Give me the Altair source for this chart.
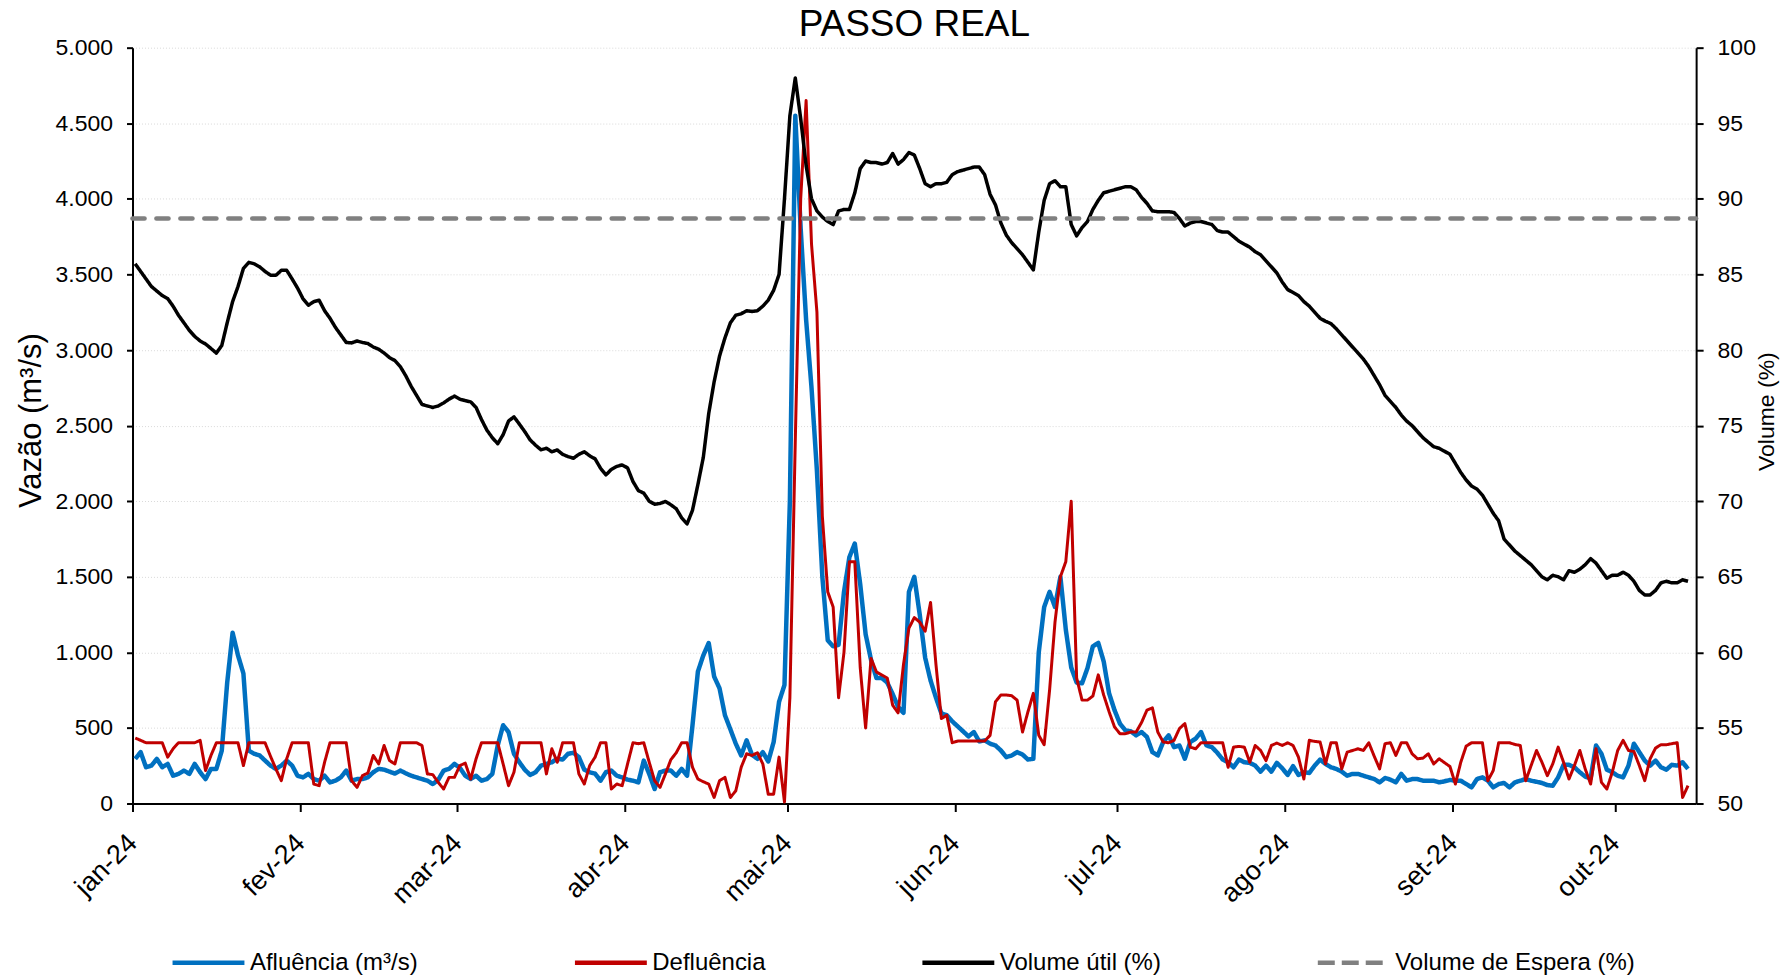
import altair as alt
import pandas as pd

# ---------------- data ----------------
INICIO = "2024-01-01 12:00"
AFLU = [
    295, 340, 240, 251, 295, 240, 262, 184, 196, 218,
    196, 262, 207, 162, 229, 229, 350, 800, 1130, 980,
    860, 350, 329, 318, 284, 251, 229, 251, 284, 251,
    184, 173, 196, 162, 151, 184, 140, 151, 173, 218,
    151, 162, 162, 173, 207, 229, 224, 211, 198, 218,
    200, 184, 173, 162, 151, 129, 156, 218, 229, 262,
    236, 184, 162, 184, 151, 162, 196, 384, 518, 473,
    329, 273, 224, 189, 207, 251, 262, 273, 296, 291,
    329, 336, 307, 224, 207, 198, 151, 207, 218, 184,
    173, 158, 151, 140, 284, 196, 96, 207, 218, 218,
    184, 229, 184, 518, 873, 980, 1062, 840, 762, 584,
    491, 396, 318, 418, 322, 296, 340, 278, 407, 673,
    784, 2000, 4550, 3800, 3200, 2750, 2200, 1500, 1080, 1040,
    1050, 1400, 1630, 1720, 1450, 1120, 950, 830, 830, 800,
    724, 640, 600, 1400, 1500, 1250, 965, 814, 700, 596,
    584, 544, 511, 478, 444, 473, 411, 418, 396, 384,
    351, 307, 318, 340, 324, 291, 296, 1000, 1300, 1400,
    1300, 1500, 1150, 900, 800, 795, 895, 1040, 1062, 940,
    729, 618, 529, 484, 478, 451, 473, 440, 340, 318,
    407, 451, 373, 384, 296, 407, 429, 473, 384, 373,
    336, 291, 273, 240, 291, 273, 269, 251, 211, 251,
    211, 269, 233, 189, 247, 189, 207, 202, 251, 291,
    262, 240, 229, 211, 184, 196, 196, 184, 173, 162,
    140, 169, 158, 140, 196, 151, 162, 162, 151, 151,
    151, 140, 147, 156, 151, 151, 129, 107, 162, 173,
    151, 107, 129, 136, 107, 140, 151, 162, 151, 144,
    136, 122, 118, 173, 256, 256, 240, 207, 178, 167,
    384, 329, 224, 207, 184, 173, 251, 396, 340, 284,
    251, 284, 240, 224, 256, 251, 273, 229,
]
DEFLU = [
    433, 418, 402, 402, 402, 402, 307, 362, 402, 402,
    402, 402, 418, 218, 318, 402, 402, 402, 402, 402,
    251, 402, 402, 402, 402, 313, 229, 151, 296, 402,
    402, 402, 402, 129, 118, 273, 402, 402, 402, 402,
    151, 107, 184, 202, 318, 262, 384, 284, 262, 402,
    402, 402, 402, 384, 196, 191, 140, 96, 173, 173,
    251, 267, 162, 296, 402, 402, 402, 402, 262, 118,
    207, 402, 402, 402, 402, 402, 196, 362, 273, 402,
    402, 402, 196, 129, 251, 307, 402, 402, 96, 129,
    118, 262, 402, 396, 402, 273, 151, 107, 196, 290,
    336, 402, 402, 240, 162, 144, 129, 40, 151, 173,
    40, 84, 240, 329, 318, 336, 262, 62, 62, 307,
    10, 700, 2400, 4000, 4650, 3700, 3250, 1900, 1400, 1300,
    700, 1000, 1600, 1600, 900, 500, 960, 870, 850, 830,
    650, 600, 920, 1160, 1230, 1200, 1140, 1330, 920, 562,
    584, 402, 413, 413, 413, 413, 413, 413, 451, 673,
    718, 718, 713, 684, 473, 607, 729, 451, 389, 750,
    1200, 1500, 1600, 2000, 830, 684, 684, 711, 851, 718,
    607, 507, 462, 462, 473, 473, 536, 618, 633, 473,
    407, 402, 418, 496, 529, 373, 362, 402, 402, 402,
    402, 402, 240, 373, 378, 373, 273, 384, 351, 284,
    384, 400, 384, 402, 384, 307, 162, 418, 411, 407,
    262, 402, 402, 229, 340, 351, 362, 351, 402, 313,
    229, 396, 402, 318, 402, 402, 329, 296, 300, 329,
    262, 296, 270, 245, 129, 273, 380, 402, 402, 402,
    151, 218, 402, 402, 402, 391, 384, 151, 251, 351,
    273, 184, 262, 373, 273, 162, 251, 351, 229, 129,
    362, 140, 96, 207, 351, 418, 351, 344, 251, 151,
    296, 367, 389, 389, 396, 402, 40, 118,
]
VOL = [
    85.7, 85.2, 84.7, 84.2, 83.9, 83.6, 83.4, 82.9, 82.3, 81.8,
    81.3, 80.9, 80.6, 80.4, 80.1, 79.8, 80.3, 81.8, 83.2, 84.2,
    85.4, 85.8, 85.7, 85.5, 85.2, 84.95, 84.94, 85.27, 85.27, 84.7,
    84.1, 83.4, 82.96, 83.2, 83.29, 82.6, 82.1, 81.5, 81.0, 80.5,
    80.47, 80.6, 80.5, 80.43, 80.2, 80.05, 79.8, 79.5, 79.3, 78.9,
    78.3, 77.6, 77.0, 76.4, 76.3, 76.2, 76.3, 76.5, 76.75, 76.95,
    76.75, 76.65, 76.57, 76.2, 75.4, 74.7, 74.2, 73.8, 74.4, 75.3,
    75.58, 75.1, 74.6, 74.05, 73.7, 73.4, 73.5, 73.27, 73.39, 73.1,
    72.95, 72.84, 73.1, 73.27, 73.0, 72.8, 72.18, 71.74, 72.1, 72.3,
    72.4, 72.2, 71.3, 70.7, 70.53, 70.0, 69.8, 69.85, 69.98, 69.76,
    69.5, 68.9, 68.5, 69.4, 71.1, 72.9, 75.8, 77.9, 79.6, 80.8,
    81.8, 82.3, 82.4, 82.6, 82.55, 82.6, 82.9, 83.3, 83.95, 85.0,
    90.0, 95.5, 98.0, 95.3, 92.2, 90.0, 89.2, 88.8, 88.5, 88.3,
    89.2, 89.3, 89.3, 90.4, 92.0, 92.5, 92.4, 92.4, 92.3, 92.4,
    93.0, 92.3, 92.6, 93.06, 92.9, 92.0, 91.0, 90.8, 91.0, 91.0,
    91.1, 91.6, 91.8, 91.9, 92.0, 92.1, 92.1, 91.6, 90.3, 89.6,
    88.4, 87.6, 87.1, 86.7, 86.3, 85.8, 85.3, 87.8, 89.9, 91.0,
    91.2, 90.8, 90.8, 88.3, 87.55, 88.1, 88.5, 89.3, 89.9, 90.4,
    90.5, 90.6, 90.7, 90.8, 90.8, 90.6, 90.1, 89.7, 89.2, 89.15,
    89.15, 89.15, 89.1, 88.7, 88.2, 88.4, 88.5, 88.5, 88.4, 88.3,
    87.9, 87.8, 87.8, 87.5, 87.2, 87.0, 86.8, 86.5, 86.3, 85.9,
    85.5, 85.1, 84.5, 84.0, 83.8, 83.6, 83.2, 82.9, 82.5, 82.1,
    81.9, 81.75, 81.4, 81.0, 80.6, 80.2, 79.8, 79.4, 78.9, 78.3,
    77.7, 77.0, 76.6, 76.2, 75.7, 75.3, 75.0, 74.6, 74.2, 73.9,
    73.6, 73.5, 73.3, 73.1, 72.5, 71.9, 71.4, 71.0, 70.8, 70.4,
    69.8, 69.2, 68.7, 67.5, 67.1, 66.7, 66.4, 66.1, 65.8, 65.4,
    65.0, 64.8, 65.1, 65.0, 64.8, 65.4, 65.3, 65.5, 65.8, 66.2,
    65.9, 65.4, 64.9, 65.1, 65.1, 65.3, 65.1, 64.7, 64.1, 63.8,
    63.8, 64.1, 64.6, 64.7, 64.6, 64.6, 64.8, 64.7,
]
ESPERA_NIVEL = [88.7, 88.7]
ESPERA_DATAS = ["2024-01-01T00:00:00", "2024-10-16T00:00:00"]

NOMES = ["Afluência (m³/s)", "Defluência", "Volume útil (%)", "Volume de Espera (%)"]
CORES = ["#0070C0", "#C00000", "#000000", "#808080"]
MESES = ["jan", "fev", "mar", "abr", "mai", "jun", "jul", "ago", "set", "out", "nov", "dez"]
TITULO = "PASSO REAL"

# ---------------- tables ----------------
n = len(AFLU)
dias = pd.date_range(INICIO, periods=n, freq="D").strftime("%Y-%m-%dT%H:%M:%S").tolist()
df_a = pd.DataFrame({"data": dias, "q": AFLU, "serie": NOMES[0]})
df_d = pd.DataFrame({"data": dias, "q": DEFLU, "serie": NOMES[1]})
df_v = pd.DataFrame({"data": dias, "v": VOL, "serie": NOMES[2]})
df_e = pd.DataFrame({"data": ESPERA_DATAS, "v": ESPERA_NIVEL, "serie": NOMES[3]})
df_t = pd.DataFrame({"t": [TITULO]})

FONT = "Liberation Sans"
W, H = 1566, 757

mes_expr = "[" + ",".join(f"'{m}'" for m in MESES) + "]"
xenc = alt.X(
    "data:T", title=None,
    scale=alt.Scale(domain=[alt.DateTime(year=2024, month=1, date=1),
                            alt.DateTime(year=2024, month=10, date=16)]),
    axis=alt.Axis(
        values=[alt.DateTime(year=2024, month=m, date=1) for m in range(1, 11)],
        labelExpr=mes_expr + "[month(datum.value)] + '-' + timeFormat(datum.value, '%y')",
        labelAngle=315, labelAlign="right", labelBaseline="middle",
        labelFontSize=27, labelFont=FONT, labelColor="black", labelPadding=27,
        tickSize=8, tickWidth=2, tickColor="black",
        domainColor="black", domainWidth=2, grid=False),
)

leg = alt.Legend(
    orient="none", legendX=37.6, legendY=877.7, direction="horizontal", columns=4,
    columnPadding=147, title=None, symbolType="stroke", symbolSize=5184,
    symbolStrokeWidth=4.5, labelFontSize=24, labelFont=FONT, labelColor="black",
    labelOffset=3, labelLimit=0)
cor = alt.Color("serie:N", scale=alt.Scale(domain=NOMES, range=CORES), legend=leg)
traco = alt.StrokeDash("serie:N",
                       scale=alt.Scale(domain=NOMES, range=[[1, 0], [1, 0], [1, 0], [17, 7]]),
                       legend=leg)

yq = alt.Y("q:Q", scale=alt.Scale(domain=[0, 5000], nice=False),
           axis=alt.Axis(values=list(range(0, 5001, 500)),
                         labelExpr="replace(format(datum.value, ',.0f'), ',', '.')",
                         title="Vazão (m³/s)", titleFont=FONT, titleFontSize=31,
                         titleFontWeight="normal", titleColor="black",
                         titleAngle=270, titleX=-100.7, titleY=373,
                         titleAlign="center", titleBaseline="middle",
                         labelFontSize=23, labelFont=FONT, labelColor="black",
                         labelPadding=14, tickSize=6, tickWidth=2, tickColor="black",
                         domainColor="black", domainWidth=2,
                         grid=True, gridColor="#d9d9d9", gridDash=[1, 2], gridWidth=1))
yv = alt.Y("v:Q", scale=alt.Scale(domain=[50, 100], nice=False),
           axis=alt.Axis(orient="right", values=list(range(50, 101, 5)),
                         title="Volume (%)", titleFont=FONT, titleFontSize=23,
                         titleFontWeight="normal", titleColor="black",
                         titleAngle=270, titleX=70.5, titleY=364,
                         titleAlign="center", titleBaseline="middle",
                         labelFontSize=23, labelFont=FONT, labelColor="black",
                         labelPadding=14, tickSize=7, tickWidth=2, tickColor="black",
                         domainColor="black", domainWidth=2, grid=False))

azul = alt.Chart(df_a).mark_line(strokeWidth=4.5, strokeJoin="round").encode(
    x=xenc, y=yq, color=cor, strokeDash=traco)
verm = alt.Chart(df_d).mark_line(strokeWidth=3, strokeJoin="round").encode(
    x=xenc, y=yq, color=cor, strokeDash=traco)
preto = alt.Chart(df_v).mark_line(strokeWidth=3.5, strokeJoin="round").encode(
    x=xenc, y=yv, color=cor, strokeDash=traco)
cinza = alt.Chart(df_e).mark_line(strokeWidth=4.7, strokeDash=[12, 12], strokeCap="round",
                                  color="#808080").encode(x=xenc, y=yv)
titulo = alt.Chart(df_t).mark_text(fontSize=37, font=FONT, color="black",
                                   align="center", baseline="alphabetic").encode(
    text="t:N", x=alt.value(W / 2), y=alt.value(-11.6))

chart = alt.layer(alt.layer(azul, verm), alt.layer(preto, cinza), titulo).resolve_scale(
    y="independent"
).properties(
    width=W, height=H,
    padding={"left": 124.7, "top": 39, "right": 86, "bottom": 172},
    autosize=alt.AutoSizeParams(type="none"),
).configure_view(stroke=None)

chart.save("out.html", embed_options={"renderer": "svg", "actions": False})
